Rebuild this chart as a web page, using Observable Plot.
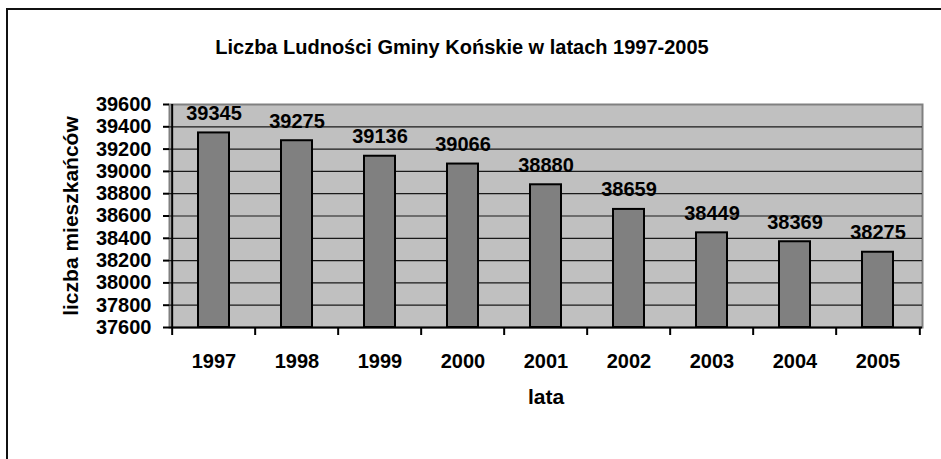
<!DOCTYPE html>
<html>
<head>
<meta charset="utf-8">
<script src="https://cdn.jsdelivr.net/npm/d3@7"></script>
<script src="https://cdn.jsdelivr.net/npm/@observablehq/plot@0.6"></script>
<style>
  html, body { margin: 0; padding: 0; background: #fff; overflow: hidden; }
  #wrap { position: relative; width: 941px; height: 459px; overflow: hidden; font-family: "Liberation Sans", Arial, sans-serif; }
  #border { position: absolute; left: 6px; top: 8px; width: 1200px; height: 1200px; border-left: 2px solid #111; border-top: 2px solid #111; box-sizing: border-box; }
  #title { position: absolute; left: 0; top: 37px; width: 924px; text-align: center; font-size: 20px; line-height: 20px; font-weight: bold; color: #000; }
  #chart { position: absolute; left: 0; top: 0; }
</style>
</head>
<body>
<div id="wrap">
  <div id="border"></div>
  <div id="chart"></div>
  <div id="title">Liczba Ludności Gminy Końskie w latach 1997-2005</div>
</div>
<script>
const years = ["1997", "1998", "1999", "2000", "2001", "2002", "2003", "2004", "2005"];
const population = [39345, 39275, 39136, 39066, 38880, 38659, 38449, 38369, 38275];
const yTicks = [37600, 37800, 38000, 38200, 38400, 38600, 38800, 39000, 39200, 39400, 39600];
const gridTicks = [37800, 38000, 38200, 38400, 38600, 38800, 39000, 39200, 39400];
const yLabel = "liczba mieszkańców";
const xLabel = "lata";

const data = years.map((y, i) => ({year: y, value: population[i]}));

const W = 941, H = 459, mL = 169, mR = 19, mT = 104, mB = 132;
const step = (W - mL - mR) / years.length;
const font = "'Liberation Sans', Arial, sans-serif";

const chart = Plot.plot({
  width: W,
  height: H,
  marginLeft: mL,
  marginRight: mR,
  marginTop: mT,
  marginBottom: mB,
  style: {fontFamily: font, color: "#000", background: "transparent", overflow: "visible"},
  x: {domain: years, padding: 0, axis: null, label: null},
  y: {domain: [yTicks[0], yTicks[yTicks.length - 1]], axis: null, label: null},
  marks: [
    Plot.frame({fill: "#c0c0c0", stroke: "#808080", strokeWidth: 2}),
    Plot.ruleY(gridTicks, {stroke: "#1a1a1a", strokeWidth: 1.2}),
    Plot.barY(data, {x: "year", y1: yTicks[0], y2: "value", fill: "#808080", stroke: "#000", strokeWidth: 2, insetLeft: 26, insetRight: 26}),
    Plot.text(data, {x: "year", y: "value", text: d => String(d.value), lineAnchor: "bottom", dy: -13, fontSize: 20, fontWeight: "bold", fill: "#000"}),
    Plot.ruleY([yTicks[0]], {stroke: "#000", strokeWidth: 2}),
    Plot.ruleX([years[0]], {dx: -step / 2, stroke: "#000", strokeWidth: 2}),
    Plot.axisY({ticks: yTicks, label: null, tickSize: 6, tickPadding: 12, strokeWidth: 2, fontSize: 20, fontWeight: "bold", tickFormat: d => String(d)}),
    Plot.axisX({label: null, tickSize: 8, strokeWidth: 2, dx: -step / 2, tickFormat: () => ""}),
    Plot.axisX({label: null, ticks: [years[years.length - 1]], tickSize: 8, strokeWidth: 2, dx: step / 2, tickFormat: () => ""}),
    Plot.axisX({label: null, tickSize: 0, tickPadding: 26, fontSize: 20, fontWeight: "bold"}),
    Plot.text([xLabel], {frameAnchor: "bottom", text: d => d, textAnchor: "middle", lineAnchor: "bottom", dy: 76, fontSize: 21, fontWeight: "bold", fill: "#000"}),
    Plot.text([yLabel], {frameAnchor: "left", text: d => d, rotate: -90, textAnchor: "middle", lineAnchor: "middle", dx: -98, fontSize: 21, fontWeight: "bold", fill: "#000"})
  ]
});
document.getElementById("chart").appendChild(chart);
</script>
</body>
</html>
